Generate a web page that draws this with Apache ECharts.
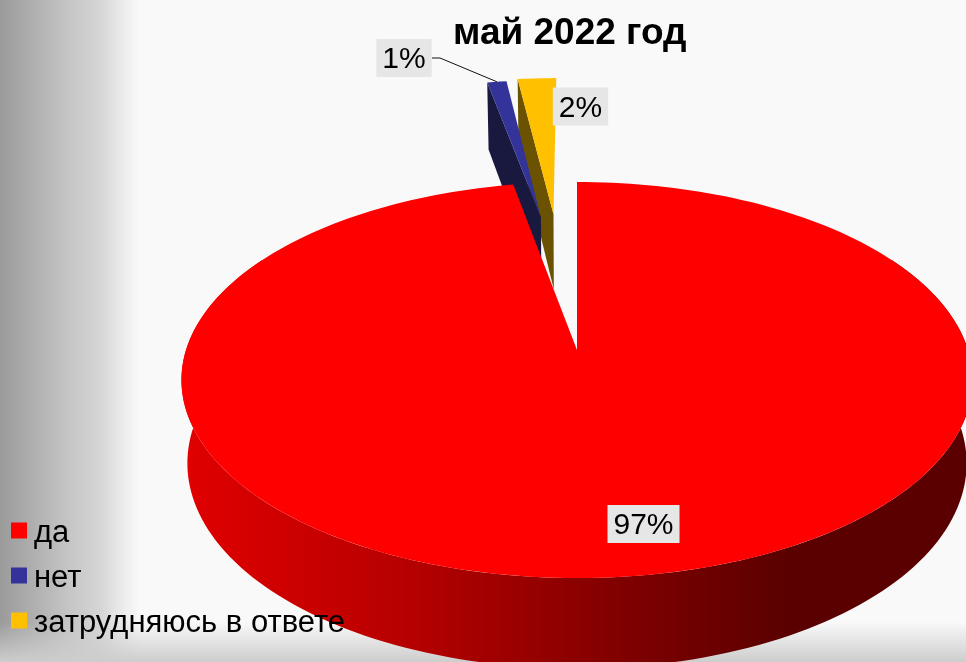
<!DOCTYPE html>
<html><head><meta charset="utf-8">
<style>html,body{margin:0;padding:0;background:#f9f9f9}#c{width:966px;height:662px}</style>
<script src="https://cdn.jsdelivr.net/npm/echarts@6/dist/echarts.min.js"></script>
</head><body><div id="c"></div>
<script>
const titleText = 'май 2022 год';
const categories = ['да', 'нет', 'затрудняюсь в ответе'];
const values = [97, 1, 2];
const colors = ['#ff0000', '#333399', '#ffc000'];
const wallColors = [null, '#19193f', '#6a5200'];
const explodeDist = [0, 0.774, 0.788];
const explodeDir = [0, 352.35, 355.1];
const labelAt = [[643.5, 524], [404, 58], [580.5, 106.5]];

const total = values.reduce((a, b) => a + b, 0);
const Xc = 577, Yc = 350, RX = 391, AY = 193.5, PERSP = 0.1515;
const FONT = '"Liberation Sans", Arial, sans-serif';
const rad = d => d * Math.PI / 180;

function topPt(u, v) {
  const w = 1 - PERSP * v;
  return [Xc + RX * u / w, Yc + AY * v / w];
}
function botPt(u, v) {
  const p = topPt(u, v);
  return [Xc + 0.985 * (p[0] - Xc), p[1] + 82 + 8.5 * v];
}
function rim(proj, t, u0, v0) {
  return proj(u0 + Math.sin(rad(t)), v0 - Math.cos(rad(t)));
}
function arc(proj, t0, t1, u0, v0) {
  const pts = [], n = Math.max(2, Math.ceil(Math.abs(t1 - t0) / 1.5));
  for (let i = 0; i <= n; i++) pts.push(rim(proj, t0 + (t1 - t0) * i / n, u0, v0));
  return pts;
}

function makeRender(idx) {
  return function (params, api) {
    const value = api.value(0);
    let start = 0;
    for (let i = 0; i < idx; i++) start += values[i] / total * 360;
    const end = start + value / total * 360;
    const e = explodeDist[idx], d = rad(explodeDir[idx]);
    const u0 = e * Math.sin(d), v0 = -e * Math.cos(d);
    const children = [];
    const style = fill => ({ fill: fill, stroke: null });

    if (idx === 0) {
      const from = Math.max(start, 60), to = Math.min(end, 300);
      children.push({
        type: 'polygon',
        shape: { points: arc(topPt, from, to, 0, 0).concat(arc(botPt, to, from, 0, 0)) },
        style: style(new echarts.graphic.LinearGradient(188, 0, 790, 0, [
          { offset: 0, color: '#e00000' },
          { offset: 0.35, color: '#b80000' },
          { offset: 0.75, color: '#7c0000' },
          { offset: 1, color: '#5a0000' }
        ], true))
      });
    } else {
      children.push({
        type: 'polygon',
        shape: { points: [rim(topPt, start, u0, v0), topPt(u0, v0), botPt(u0, v0), rim(botPt, start, u0, v0)] },
        style: style(wallColors[idx])
      });
    }
    children.push({
      type: 'polygon',
      shape: { points: [topPt(u0, v0)].concat(arc(topPt, start, end, u0, v0)) },
      style: style(colors[idx])
    });
    if (idx === 1) {
      const t = rim(topPt, (start + end) / 2, u0, v0);
      children.push({
        type: 'polyline',
        shape: { points: [[labelAt[idx][0] + 28, labelAt[idx][1]], [labelAt[idx][0] + 36, labelAt[idx][1]], t] },
        style: { stroke: '#111', lineWidth: 1, fill: null }
      });
    }
    const labelText = Math.round(value / total * 100) + '%';
    children.push({
      type: 'text',
      style: {
        text: labelText,
        x: labelAt[idx][0], y: labelAt[idx][1],
        align: 'center', verticalAlign: 'middle',
        font: '30px ' + FONT, fill: 'rgba(0,0,0,0)',
        backgroundColor: '#e6e6e6', padding: [4, 6, 4, 6]
      }
    });
    children.push({
      type: 'text',
      style: {
        text: labelText,
        x: labelAt[idx][0], y: labelAt[idx][1] + 2,
        align: 'center', verticalAlign: 'middle',
        font: '30px ' + FONT, fill: '#000'
      }
    });
    return { type: 'group', children: children };
  };
}

const chart = echarts.init(document.getElementById('c'), null, { renderer: 'canvas' });
chart.setOption({
  animation: false,
  backgroundColor: '#f9f9f9',
  title: {
    text: titleText, left: 453, top: 15, padding: 0, z: 20,
    textStyle: { fontFamily: FONT, fontWeight: 'bold', fontSize: 37, color: '#000' }
  },
  legend: {
    orient: 'vertical', left: 11, top: 518, padding: 0, z: 20,
    data: categories, itemWidth: 16, itemHeight: 16, itemGap: 14,
    icon: 'rect', selectedMode: false,
    formatter: name => '{a|' + name + '}',
    textStyle: {
      fontFamily: FONT, fontSize: 31, color: '#000',
      rich: { a: { fontFamily: FONT, fontSize: 31, color: '#000', padding: [6, 0, 0, 2] } }
    }
  },
  graphic: [
    { type: 'rect', silent: true, z: -10, shape: { x: 0, y: 0, width: 140, height: 662 },
      style: { fill: new echarts.graphic.LinearGradient(0, 0, 1, 0, [
        { offset: 0, color: '#9a9a9a' },
        { offset: 0.5, color: '#c6c6c6' },
        { offset: 0.72, color: '#d6d6d6' },
        { offset: 0.85, color: '#e8e8e8' },
        { offset: 1, color: '#f9f9f9' }
      ]) } },
    { type: 'rect', silent: true, z: -9, shape: { x: 0, y: 622, width: 966, height: 40 },
      style: { fill: new echarts.graphic.LinearGradient(0, 0, 0, 1, [
        { offset: 0, color: 'rgba(205,205,205,0)' },
        { offset: 1, color: 'rgba(205,205,205,1)' }
      ]) } }
  ],
  series: categories.map((name, i) => ({
    type: 'custom',
    name: name,
    coordinateSystem: 'none',
    z: [5, 3, 2][i],
    silent: true,
    itemStyle: { color: colors[i] },
    renderItem: makeRender(i),
    data: [[values[i]]]
  }))
});
</script></body></html>
